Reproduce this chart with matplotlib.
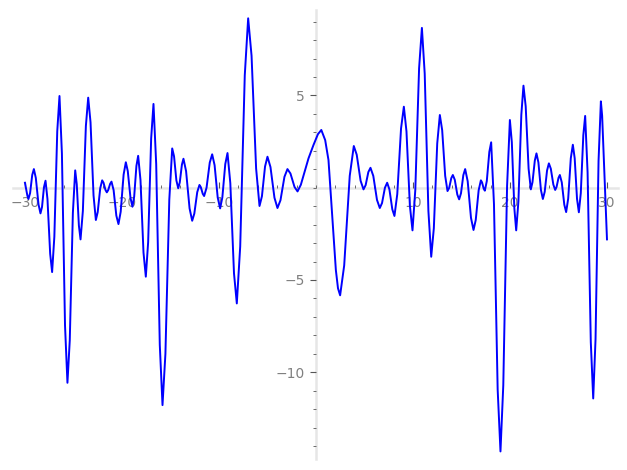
import matplotlib
matplotlib.use("Agg")
import matplotlib.pyplot as plt
from matplotlib.ticker import MultipleLocator, FixedLocator

# points (extrema plus shoulder points), left to right
xs = [-30.0, -29.75, -29.64, -29.47, -29.25, -29.08, -28.88, -28.6, -28.4, -28.24,
      -28.04, -27.88, -27.68, -27.4, -27.2, -26.97, -26.67, -26.44, -26.19, -25.87,
      -25.62, -25.38, -25.06, -24.82, -24.66, -24.44, -24.27, -24.03, -23.72, -23.48,
      -23.24, -22.93, -22.69, -22.5, -22.24, -22.04, -21.9, -21.7, -21.56, -21.42,
      -21.22, -21.08, -20.86, -20.58, -20.36, -20.13, -19.83, -19.6, -19.4, -19.12,
      -18.92, -18.74, -18.51, -18.33, -18.09, -17.78, -17.54, -17.3, -16.99, -16.75,
      -16.47, -16.1, -15.82, -15.52, -15.12, -14.82, -14.63, -14.39, -14.2, -14.04,
      -13.82, -13.66, -13.39, -13.03, -12.76, -12.54, -12.24, -12.01, -11.87, -11.67,
      -11.53, -11.28, -10.95, -10.7, -10.45, -10.13, -9.88, -9.65, -9.35, -9.12,
      -8.83, -8.45, -8.16, -7.81, -7.34, -6.99, -6.64, -6.17, -5.82, -5.57,
      -5.25, -5.0, -4.69, -4.28, -3.97, -3.66, -3.25, -2.94, -2.63, -2.21,
      -1.9, -1.56, -0.77, -0.26, 0.2, 0.55, 0.95, 1.29, 1.64, 2.05,
      2.27, 2.49, 2.91, 3.48, 3.9, 4.2, 4.6, 4.9, 5.12, 5.4,
      5.62, 5.91, 6.29, 6.58, 6.81, 7.11, 7.34, 7.57, 7.87, 8.09,
      8.38, 8.77, 9.06, 9.33, 9.68, 9.95, 10.24, 10.63, 10.92, 11.21,
      11.59, 11.88, 12.15, 12.5, 12.77, 13.01, 13.32, 13.56, 13.73, 13.95,
      14.11, 14.31, 14.57, 14.76, 14.95, 15.19, 15.38, 15.64, 15.98, 16.24,
      16.47, 16.77, 17.0, 17.12, 17.29, 17.41, 17.61, 17.87, 18.06, 18.35,
      18.73, 19.02, 19.31, 19.7, 19.99, 20.19, 20.45, 20.64, 20.87, 21.17,
      21.39, 21.62, 21.92, 22.15, 22.32, 22.56, 22.73, 22.93, 23.19, 23.39,
      23.58, 23.82, 24.01, 24.21, 24.47, 24.66, 24.8, 25.0, 25.14, 25.34,
      25.6, 25.79, 26.0, 26.27, 26.48, 26.67, 26.91, 27.1, 27.3, 27.56,
      27.75, 28.0, 28.33, 28.58, 28.82, 29.13, 29.37, 29.5, 29.64, 30.0]
ys = [0.27, -0.43, -0.61, -0.29, 0.69, 1.01, 0.53, -0.91, -1.39, -1.04,
      0.03, 0.38, -0.61, -3.58, -4.57, -2.66, 3.06, 4.97, 1.86, -7.46,
      -10.57, -8.27, -1.36, 0.94, 0.19, -2.05, -2.8, -1.26, 3.34, 4.88,
      3.55, -0.42, -1.75, -1.32, -0.03, 0.4, 0.27, -0.12, -0.25, -0.13,
      0.21, 0.33, -0.13, -1.51, -1.97, -1.3, 0.71, 1.38, 0.9, -0.55,
      -1.03, -0.48, 1.18, 1.73, 0.42, -3.51, -4.82, -2.95, 2.67, 4.54,
      1.28, -8.52, -11.78, -9.0, -0.65, 2.13, 1.7, 0.4, -0.03, 0.29,
      1.25, 1.57, 0.9, -1.12, -1.79, -1.4, -0.24, 0.15, 0.03, -0.33,
      -0.45, 0.0, 1.36, 1.81, 1.22, -0.53, -1.12, -0.52, 1.28, 1.88,
      0.25, -4.64, -6.27, -3.18, 6.09, 9.18, 7.15, 1.04, -0.99, -0.46,
      1.15, 1.68, 1.12, -0.54, -1.1, -0.68, 0.59, 1.01, 0.77, 0.04,
      -0.2, 0.16, 1.59, 2.31, 2.9, 3.13, 2.58, 1.5, -1.21, -4.46,
      -5.45, -5.83, -4.21, 0.64, 2.26, 1.79, 0.38, -0.09, 0.14, 0.85,
      1.08, 0.64, -0.66, -1.1, -0.83, 0.0, 0.27, -0.09, -1.17, -1.53,
      -0.35, 3.21, 4.39, 3.05, -0.97, -2.31, -0.12, 6.47, 8.66, 6.18,
      -1.26, -3.74, -2.2, 2.4, 3.94, 3.12, 0.64, -0.18, -0.01, 0.52,
      0.69, 0.43, -0.37, -0.63, -0.3, 0.68, 1.01, 0.35, -1.63, -2.29,
      -1.75, -0.14, 0.4, 0.29, -0.05, -0.16, 0.36, 1.94, 2.46, -0.89,
      -10.94, -14.29, -10.7, 0.08, 3.67, 2.47, -1.11, -2.31, -0.74, 3.96,
      5.53, 4.41, 1.03, -0.09, 0.3, 1.47, 1.86, 1.37, -0.12, -0.61,
      -0.22, 0.93, 1.32, 1.03, 0.17, -0.12, 0.04, 0.53, 0.69, 0.29,
      -0.92, -1.32, -0.59, 1.6, 2.33, 1.6, -0.6, -1.33, -0.29, 2.85,
      3.89, 0.83, -8.36, -11.42, -8.2, 1.46, 4.68, 3.9, 2.04, -2.8]

fig = plt.figure(figsize=(6.27, 4.70), dpi=100)
ax = fig.add_axes([0.0203, 0.0234, 0.9648, 0.9553])
ax.plot(xs, ys, color="blue", linewidth=1.4, solid_joinstyle="round")

ax.set_xlim(-31.26, 31.1)
ax.set_ylim(-14.7, 9.63)

for s in ["top", "right"]:
    ax.spines[s].set_visible(False)
ax.spines["left"].set_position(("data", 0))
ax.spines["bottom"].set_position(("data", 0))
for s in ["left", "bottom"]:
    ax.spines[s].set_color("#e6e6e6")
    ax.spines[s].set_linewidth(1.8)
    ax.spines[s].set_zorder(0)

ax.xaxis.set_major_locator(FixedLocator([-30, -20, -10, 10, 20, 30]))
ax.xaxis.set_minor_locator(MultipleLocator(2))
ax.yaxis.set_major_locator(FixedLocator([-10, -5, 5]))
ax.yaxis.set_minor_locator(MultipleLocator(1))
ax.tick_params(axis="x", which="both", direction="in", colors="#555555",
               labelcolor="#808080", labelsize=10, pad=6)
ax.tick_params(axis="x", which="major", length=4, width=0.8)
ax.tick_params(axis="x", which="minor", length=2, width=0.6)
ax.tick_params(axis="y", which="both", direction="out", colors="#555555",
               labelcolor="#808080", labelsize=10, pad=4)
ax.tick_params(axis="y", which="major", length=4, width=0.8)
ax.tick_params(axis="y", which="minor", length=2, width=0.6)

plt.savefig("out.png", dpi=100)
